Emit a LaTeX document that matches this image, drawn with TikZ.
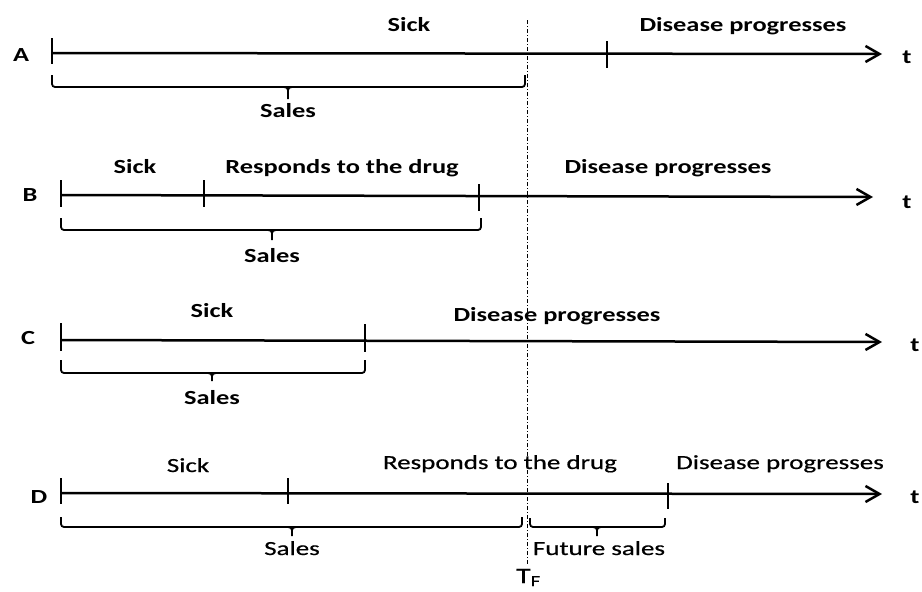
\documentclass[tikz,border=0pt]{standalone}
\usepackage{fontspec}
\setmainfont{Carlito}[FakeStretch=1.35]
\newfontfamily\boldrow{Carlito}[FakeStretch=1.32]
\newfontfamily\plainrow{Carlito}[FakeStretch=1.35,FakeBold=0.6]
\usetikzlibrary{arrows.meta}
\newcommand\mybrace[6]{%
  \draw[bracestyle,rounded corners=3pt] (#1,#4) -- (#1,#5) -- (#2,#5) -- (#2,#4);
  \draw[bracestyle] ({#3-4},#5) to[out=0,in=90] ({#3},{#5+3}) -- (#3,#6);
  \draw[bracestyle] ({#3+4},#5) to[out=180,in=90] ({#3},{#5+3});
}
\begin{document}
\begin{tikzpicture}[x=1pt,y=-1pt,
  txt/.style={inner sep=0pt,anchor=base,font=\fontsize{20}{24}\boldrow\bfseries},
  txtd/.style={inner sep=0pt,anchor=base,font=\fontsize{20}{24}\plainrow},
  lbl/.style={inner sep=0pt,font=\fontsize{20}{24}\boldrow\bfseries},
  axisline/.style={line width=2.5pt,-{Straight Barb[length=14pt,width=16pt,line width=2.5pt]}},
  tickline/.style={line width=2.2pt},
  bracestyle/.style={line width=1.8pt},
  tfline/.style={line width=0.7pt,dash pattern=on 4pt off 2pt on 1pt off 2pt}]
\useasboundingbox (0,0) rectangle (922,592);
% reference line T_F
\coordinate (tftop) at (527,20);
\coordinate (tfbot) at (527,564);
\draw[tfline] (tftop) -- (tfbot);
\node[txtd,anchor=base west,font=\fontsize{22}{26}\plainrow] (tf) at (516,583) {T\textsubscript{F}};

% ---------- Row A ----------
\node[lbl] (labA) at (21,55) {A};
\coordinate (a0) at (52,53);
\coordinate (a1) at (882,54);
\draw[axisline] (a0) -- (a1);
\node[lbl] (tA) at (907,57) {t};
\draw[tickline] (52,38) -- (52,64);
\draw[tickline] (607,41) -- (607,68);
\node[txt] (sickA) at (409,31) {Sick};
\node[txt] (disA) at (743,31) {Disease progresses};
\mybrace{52}{525}{288}{75}{87}{99}
\node[txt] (salesA) at (288,117) {Sales};

% ---------- Row B ----------
\node[lbl] (labB) at (30,195) {B};
\coordinate (b0) at (61,195);
\coordinate (b1) at (873,197);
\draw[axisline] (b0) -- (b1);
\node[lbl] (tB) at (907,202) {t};
\draw[tickline] (61,180) -- (61,207);
\draw[tickline] (204,180) -- (204,207);
\draw[tickline] (479,184) -- (479,211);
\node[txt] (sickB) at (135,173) {Sick};
\node[txt] (respB) at (342,173) {Responds to the drug};
\node[txt] (disB) at (668,173) {Disease progresses};
\mybrace{61}{481}{272}{218}{230}{240}
\node[txt] (salesB) at (272,262) {Sales};

% ---------- Row C ----------
\node[lbl] (labC) at (28,338) {C};
\coordinate (c0) at (61,340);
\coordinate (c1) at (882,342);
\draw[axisline] (c0) -- (c1);
\node[lbl] (tC) at (915,345) {t};
\draw[tickline] (61,323) -- (61,351);
\draw[tickline] (365,324) -- (365,352);
\node[txt] (sickC) at (212,317) {Sick};
\node[txt] (disC) at (557,321) {Disease progresses};
\mybrace{61}{365}{212}{360}{373}{381}
\node[txt] (salesC) at (212,404) {Sales};

% ---------- Row D ----------
\node[lbl] (labD) at (39,497) {D};
\coordinate (d0) at (61,493);
\coordinate (d1) at (882,494);
\draw[axisline] (d0) -- (d1);
\node[lbl] (tD) at (915,497) {t};
\draw[tickline] (61,478) -- (61,504);
\draw[tickline] (288,478) -- (288,504);
\draw[tickline] (668,483) -- (668,509);
\node[txtd] (sickD) at (188,472) {Sick};
\node[txtd] (respD) at (500,469) {Responds to the drug};
\node[txtd] (disD) at (780,469) {Disease progresses};
\mybrace{61}{522}{292}{517}{527}{536}
\node[txtd] (salesD) at (292,555) {Sales};
\mybrace{530}{665}{597}{518}{527}{536}
\node[txtd] (futD) at (599,555) {Future sales};
\end{tikzpicture}
\end{document}
